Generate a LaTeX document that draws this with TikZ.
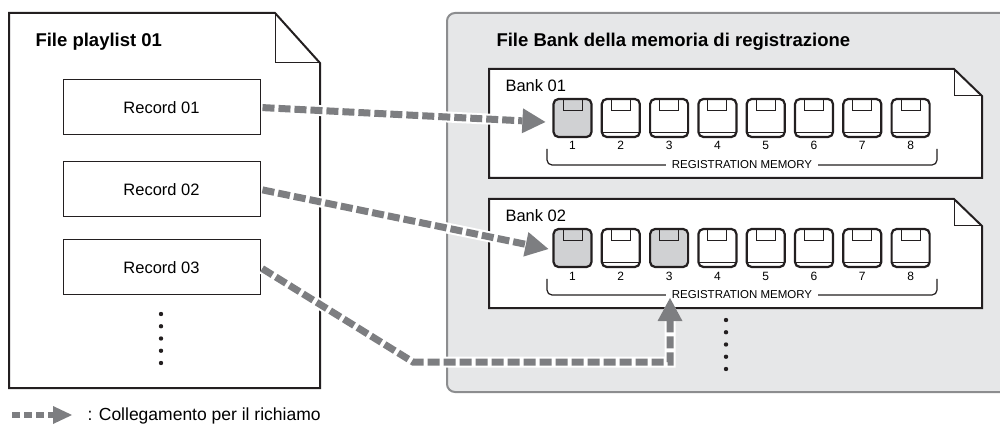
\documentclass[tikz,border=0pt]{standalone}
\usepackage{fontspec}
\setmainfont{Liberation Sans}
\usetikzlibrary{arrows.meta}

\definecolor{ink}{RGB}{35,31,32}
\definecolor{panelgray}{RGB}{230,231,232}
\definecolor{panelline}{RGB}{140,141,143}
\definecolor{keygray}{RGB}{208,209,211}
\definecolor{linkgray}{RGB}{125,126,129}

\tikzset{
  doc/.style={draw=ink, line width=2pt, fill=white},
  fold/.style={draw=ink, line width=1pt},
  title/.style={anchor=base west, font=\bfseries\fontsize{18.5}{22}\selectfont},
  banklabel/.style={anchor=base west, font=\fontsize{16.5}{19}\selectfont},
  record/.style={draw=ink, line width=1pt, minimum width=197pt, minimum height=55pt,
    font=\fontsize{16.5}{19}\selectfont},
  key/.style={draw=ink, line width=2.2pt, rounded corners=5pt, minimum width=38pt,
    minimum height=38pt, inner sep=0pt, fill=white,
    path picture={
      \draw[ink, sharp corners, line width=0.9pt]
        ([xshift=-9.5pt]path picture bounding box.north) rectangle
        ([xshift=9.5pt,yshift=-11pt]path picture bounding box.north);
      \draw[ink, sharp corners, line width=0.9pt]
        ([yshift=5pt]path picture bounding box.south west) --
        ([yshift=5pt]path picture bounding box.south east);
    }},
  keyon/.style={key, fill=keygray,
    path picture={
      \draw[ink, sharp corners, line width=0.9pt]
        ([xshift=-9.5pt]path picture bounding box.north) rectangle
        ([xshift=9.5pt,yshift=-11pt]path picture bounding box.north);
    }},
  num/.style={anchor=base, font=\fontsize{12}{14}\selectfont},
  regtext/.style={fill=white, inner xsep=6pt, inner ysep=1pt,
    font=\fontsize{11.5}{13}\selectfont},
  brace/.style={draw=ink, line width=1.2pt, rounded corners=5pt},
  link/.style={draw=linkgray, line width=7pt, dash pattern=on 12pt off 4pt,
    line join=miter, shorten <=2pt,
    -{Triangle[length=23pt,width=25pt,line width=0pt]},
    preaction={draw=white, line width=11pt, solid}}
}

\begin{document}
\begin{tikzpicture}[x=1pt, y=-1pt]
  \useasboundingbox (0,0) rectangle (1000,427);
  % 右側: バンクファイルの枠 (右端は画像の外まで)
  \draw[draw=panelline, fill=panelgray, line width=2pt, rounded corners=8pt]
    (447,13) rectangle (1012,392);
  \node[title] (banktitle) at (493,47) {File Bank della memoria di registrazione};
  % 左側: プレイリストファイル
  \draw[doc] (9,13) -- (275,13) -- (320,63) -- (320,388) -- (9,388) -- cycle;
  \draw[fold] (275,13) -- (275,63) -- (320,63);
  \node[title] (pltitle) at (32,47) {File playlist 01};
  \node[record] (r1) at (161.5,107.5) {Record 01};
  \node[record] (r2) at (161.5,189.5) {Record 02};
  \node[record] (r3) at (161.5,267.5) {Record 03};
  \foreach \k in {0,...,4}
    \fill[ink] (161,314+12.25*\k) circle (2.2pt);
  % バンク 01, 02 (T = 上端)
  \foreach \T/\n in {69/1,199/2} {
    \draw[doc] (489,\T) -- (954,\T) -- (982,\T+27) -- (982,\T+109) -- (489,\T+109) -- cycle;
    \draw[fold] (954,\T) -- (954,\T+27) -- (982,\T+27);
    \node[banklabel] (bank\n) at (502,\T+23) {Bank 0\n};
    \foreach \i in {1,...,8} {
      \pgfmathsetmacro\kx{572.5+48.3*(\i-1)}
      \pgfmathtruncatemacro\hot{(\i==1)||(\n==2&&\i==3)}
      \ifnum\hot=1 \def\ks{keyon}\else\def\ks{key}\fi
      \node[\ks] (k\n-\i) at (\kx,\T+49) {};
      \node[num] (n\n-\i) at (\kx,\T+81) {\i};
    }
    \draw[brace] (547,\T+80) -- (547,\T+96) -- (937,\T+96) -- (937,\T+80);
    \node[regtext] (reg\n) at (742,\T+96) {REGISTRATION MEMORY};
  }
  \foreach \k in {0,...,4}
    \fill[ink] (726,320+12.25*\k) circle (2.2pt);
  % 呼び出しのリンク
  \coordinate (bend1) at (413,362);
  \coordinate (bend2) at (670,362);
  \coordinate (tip3) at (670,298);
  \draw[link] (r1.east) -- ([xshift=-7pt,yshift=-4pt]k1-1.west);
  \draw[link] (r2.east) -- ([xshift=-4pt,yshift=-1pt]k2-1.west);
  \draw[link] (r3.east) -- (bend1) -- (bend2) -- (tip3);
  % 凡例
  \coordinate (lga) at (10,415);
  \coordinate (lgb) at (72,415);
  \draw[link, line width=6pt, dash pattern=on 8pt off 4pt,
    -{Triangle[length=19pt,width=18pt,line width=0pt]}] (lga) -- (lgb);
  \node[anchor=base west, font=\fontsize{17.5}{21}\selectfont] (legtext) at (84,420)
    {: Collegamento per il richiamo};
\end{tikzpicture}
\end{document}
